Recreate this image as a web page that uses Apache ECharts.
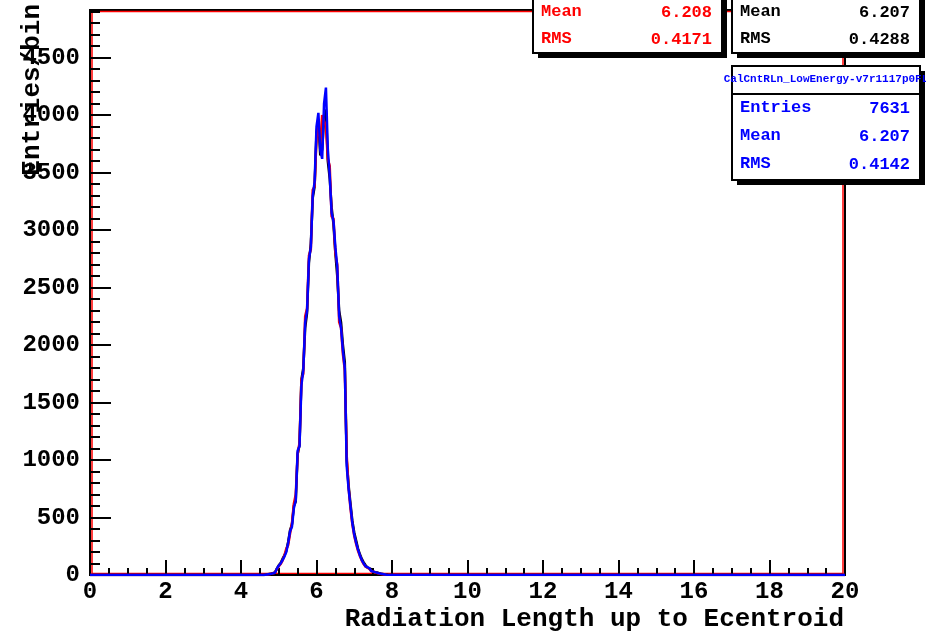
<!DOCTYPE html>
<html>
<head>
<meta charset="utf-8">
<script src="https://cdn.jsdelivr.net/npm/echarts@6/dist/echarts.min.js"></script>
<style>
html,body{margin:0;padding:0;background:#fff;}
#chart{width:926px;height:637px;}
</style>
</head>
<body>
<div id="chart"></div>
<script>
// ---- data ----
const binStart = 4.60;
const binWidth = 0.05;
const xMin = 0, xMax = 20;
const yMax = 4915;
const xTitle = 'Radiation Length up to Ecentroid';
const yTitle = 'Entries/bin';

const blackVals = [3,6,8,12,15,22,38,55,85,105,
  140,170,210,290,390,440,600,640,1050,1130,
  1700,1800,2150,2280,2720,2880,3280,3380,3850,3950,
  3650,3700,3980,4050,3600,3450,3200,3050,2800,2600,
  2300,2200,2000,1850,1000,780,620,470,370,300,
  230,180,140,110,85,65,50,38,28,22,
  16,12,9,6,4,2];
const redVals = [2,4,7,10,14,20,32,50,75,95,
  125,170,230,260,360,450,620,700,1050,1150,
  1700,1750,2250,2320,2780,2830,3350,3380,3800,3900,
  3750,4000,3950,3900,3620,3560,3120,3100,2800,2700,
  2200,2150,1920,1780,1040,760,580,440,340,270,
  210,165,125,95,72,55,42,32,24,18,
  13,9,6,4,2,1];
const blueVals = [3,5,8,10,15,20,35,55,80,100,
  130,160,200,280,380,420,580,650,1080,1120,
  1650,1780,2200,2300,2750,2850,3300,3420,3900,4020,
  3700,3620,4100,4240,3700,3480,3150,3080,2850,2680,
  2250,2150,1950,1800,950,750,600,450,350,280,
  220,170,130,100,75,60,45,35,25,20,
  15,10,8,5,3,2];

const statsRed   = [['Mean','6.208'],['RMS','0.4171']];
const statsBlack = [['Mean','6.207'],['RMS','0.4288']];
const statsBlue  = [['Entries','7631'],['Mean','6.207'],['RMS','0.4142']];
const blueTitle = 'CalCntRLn_LowEnergy-v7r1117p0FL';

// ---- build ----
function histData(vals){
  const d = [[xMin,0]];
  for(let i=0;i<vals.length;i++){
    d.push([+(binStart+i*binWidth).toFixed(4), vals[i]]);
  }
  d.push([+(binStart+vals.length*binWidth).toFixed(4), 0]);
  d.push([xMax,0]);
  return d;
}

const FONT = "'Courier New','Liberation Mono',monospace";

function statBox(x, y, w, h, rows, color, rowY, title){
  const els = [];
  els.push({type:'rect', shape:{x:x+5,y:y+5,width:w,height:h}, style:{fill:'#000'}, z:100});
  els.push({type:'rect', shape:{x:x,y:y,width:w,height:h}, style:{fill:'#fff',stroke:'#000',lineWidth:2}, z:101});
  if(title){
    els.push({type:'line', shape:{x1:x,y1:y+28,x2:x+w,y2:y+28}, style:{stroke:'#000',lineWidth:2}, z:102});
    els.push({type:'text', x:x+w/2, y:y+13, style:{text:title, fill:color, font:"bold 11px "+FONT, textAlign:'center', textVerticalAlign:'middle'}, z:103});
  }
  rows.forEach((r,i)=>{
    els.push({type:'text', x:x+8, y:rowY[i], style:{text:r[0], fill:color, font:"bold 17px "+FONT, textAlign:'left', textVerticalAlign:'middle'}, z:103});
    els.push({type:'text', x:x+w-10, y:rowY[i]+1, style:{text:r[1], fill:color, font:"bold 17px "+FONT, textAlign:'right', textVerticalAlign:'middle'}, z:103});
  });
  return els;
}

const graphics = [].concat(
  [{type:'text', x:32, y:4, rotation:Math.PI/2,
    style:{text:yTitle, fill:'#000', font:"bold 26px "+FONT, textAlign:'right', textVerticalAlign:'middle'}, z:50}],
  statBox(533,-40,189,93,statsRed,'#ff0000',[12,39]),
  statBox(732,-40,188,93,statsBlack,'#000000',[12,39]),
  statBox(732,66,188,114,statsBlue,'#0000ff',[108,136,164],blueTitle)
);

const chart = echarts.init(document.getElementById('chart'), null, {renderer:'canvas'});
const labelStyle = {color:'#000', fontFamily:FONT, fontWeight:'bold', fontSize:24};

chart.setOption({
  animation:false,
  backgroundColor:'#fff',
  grid:[
    {left:90,right:81,top:10,bottom:62,show:true,borderColor:'#000',borderWidth:2,backgroundColor:'transparent',containLabel:false,outerBoundsMode:'none'},
    {left:92,right:83,top:11.5,bottom:63.5,show:true,borderColor:'#ff0000',borderWidth:1.5,backgroundColor:'transparent',containLabel:false,outerBoundsMode:'none'}
  ],
  xAxis:[
    {type:'value',gridIndex:0,min:xMin,max:xMax,interval:2,position:'bottom',
     axisLine:{show:true,lineStyle:{color:'#000',width:2}},
     axisTick:{show:true,inside:true,length:15,lineStyle:{color:'#000',width:2}},
     minorTick:{show:true,splitNumber:4,length:7,lineStyle:{color:'#000',width:2}},
     splitLine:{show:false},
     axisLabel:Object.assign({margin:5,formatter:v=>String(v)},labelStyle),
     name:xTitle,nameLocation:'end',nameGap:-1,
     nameTextStyle:{color:'#000',fontFamily:FONT,fontWeight:'bold',fontSize:26,align:'right',verticalAlign:'top',padding:[31,0,0,0]}
    },
    {type:'value',gridIndex:1,min:0,max:1,show:false}
  ],
  yAxis:[
    {type:'value',gridIndex:0,min:0,max:yMax,interval:500,position:'left',
     axisLine:{show:true,lineStyle:{color:'#000',width:2}},
     axisTick:{show:true,inside:true,length:21,lineStyle:{color:'#000',width:2}},
     splitLine:{show:false},
     axisLabel:Object.assign({margin:10,showMaxLabel:false,formatter:v=>String(v)},labelStyle)
    },
    {type:'value',gridIndex:0,min:0,max:yMax,interval:100,position:'left',offset:0,
     axisLine:{show:false},
     axisTick:{show:true,inside:true,length:10,lineStyle:{color:'#000',width:2}},
     axisLabel:{show:false},splitLine:{show:false}
    },
    {type:'value',gridIndex:1,min:0,max:1,show:false}
  ],
  graphic:graphics,
  series:[
    {name:'black',type:'line',step:'end',xAxisIndex:0,yAxisIndex:0,data:histData(blackVals),
     symbol:'none',lineStyle:{color:'#000',width:2.5},z:3},
    {name:'red',type:'line',step:'end',xAxisIndex:0,yAxisIndex:0,data:histData(redVals),
     symbol:'none',lineStyle:{color:'#ff0000',width:2.5},z:4},
    {name:'blue',type:'line',step:'end',xAxisIndex:0,yAxisIndex:0,data:histData(blueVals),
     symbol:'none',lineStyle:{color:'#0000ff',width:2.5},z:5}
  ]
});
</script>
</body>
</html>
